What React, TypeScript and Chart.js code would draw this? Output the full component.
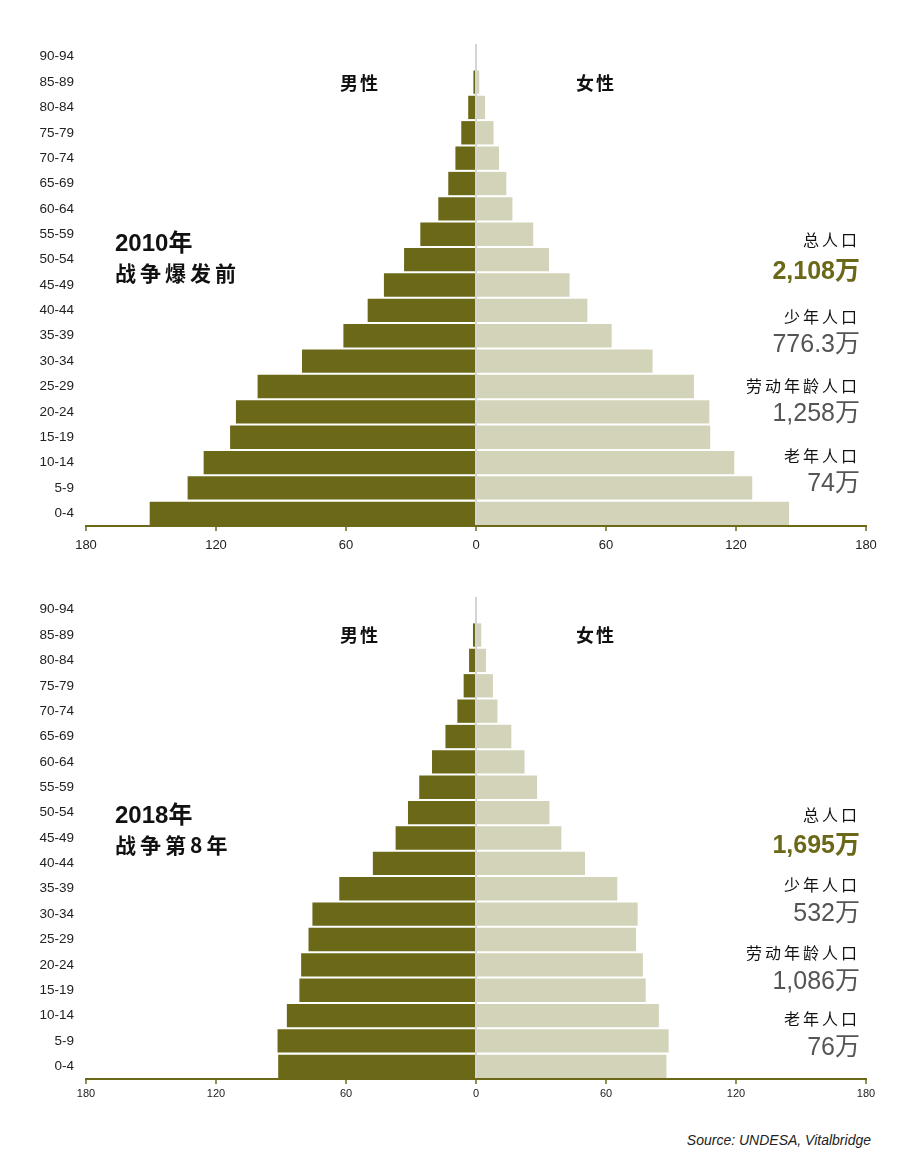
import { useEffect, useRef } from "react"
import { Chart, registerables } from "chart.js"

Chart.register(...registerables)

// age groups, bottom (0-4) to top (90-94)
const ageGroups = [
  "0-4", "5-9", "10-14", "15-19", "20-24", "25-29", "30-34", "35-39", "40-44", "45-49",
  "50-54", "55-59", "60-64", "65-69", "70-74", "75-79", "80-84", "85-89", "90-94",
]

// population in 万 (ten thousand)
const male2010 = [150.6, 133.1, 125.7, 113.5, 110.8, 100.8, 80.3, 61.2, 50.0, 42.5, 33.2, 25.7, 17.4, 12.8, 9.5, 6.8, 3.6, 1.2, 0]
const female2010 = [144.5, 127.5, 119.2, 108.1, 107.7, 100.6, 81.5, 62.6, 51.4, 43.2, 33.7, 26.4, 16.8, 14.0, 10.6, 8.1, 4.2, 1.5, 0]
const male2018 = [91.3, 91.6, 87.3, 81.5, 80.7, 77.3, 75.5, 63.1, 47.6, 37.1, 31.4, 26.2, 20.3, 14.1, 8.6, 5.7, 3.2, 1.4, 0]
const female2018 = [87.9, 88.9, 84.4, 78.3, 77.0, 73.9, 74.6, 65.2, 50.3, 39.4, 33.9, 28.2, 22.4, 16.3, 9.9, 7.8, 4.6, 2.4, 0]

const statLabels = ["总人口", "少年人口", "劳动年龄人口", "老年人口"]
const stats2010 = ["2,108万", "776.3万", "1,258万", "74万"]
const stats2018 = ["1,695万", "532万", "1,086万", "76万"]

const OLIVE = "#6b6818"
const BEIGE = "#d3d3b9"
const CJK = '"Noto Sans CJK SC", "Noto Sans", sans-serif'
const LATIN = 'Arial, "Liberation Sans", ' + CJK

type PyramidProps = {
  male: number[]
  female: number[]
  top: number
  height: number
  padTop: number
  axisHeight: number
  tickSize: number
  tickPad: number
}

function Pyramid({ male, female, top, height, padTop, axisHeight, tickSize, tickPad }: PyramidProps) {
  const chartRef = useRef<HTMLCanvasElement>(null)

  useEffect(() => {
    if (!chartRef.current) return
    const chart = new Chart(chartRef.current, {
      type: "bar",
      data: {
        labels: ageGroups,
        datasets: [
          {
            label: "男性",
            data: male.map((v) => -v),
            backgroundColor: OLIVE,
            barPercentage: 0.92,
            categoryPercentage: 1,
          },
          {
            label: "女性",
            data: female,
            backgroundColor: BEIGE,
            barPercentage: 0.92,
            categoryPercentage: 1,
          },
        ],
      },
      options: {
        indexAxis: "y",
        responsive: false,
        animation: false,
        layout: { padding: { top: padTop, right: 58, left: 0, bottom: 0 } },
        plugins: {
          legend: { display: false },
          tooltip: { enabled: false },
        },
        scales: {
          x: {
            stacked: true,
            min: -180,
            max: 180,
            afterFit: (scale) => {
              scale.height = axisHeight
            },
            ticks: {
              stepSize: 60,
              callback: (value) => String(Math.abs(Number(value))),
              color: "#222",
              font: { family: "Arial, 'Liberation Sans', sans-serif", size: tickSize },
              padding: tickPad,
              maxRotation: 0,
            },
            grid: {
              drawOnChartArea: true,
              color: (ctx) => (ctx.tick && ctx.tick.value === 0 ? "#d4d4d4" : "rgba(0,0,0,0)"),
              lineWidth: 2,
              tickColor: OLIVE,
              tickLength: 5,
              tickWidth: 1.5,
            },
            border: { color: OLIVE, width: 2 },
          },
          y: {
            stacked: true,
            reverse: true,
            afterFit: (scale) => {
              scale.width = 86
            },
            ticks: {
              color: "#222",
              font: { family: "Arial, 'Liberation Sans', sans-serif", size: 13.5 },
              padding: 12,
              autoSkip: false,
            },
            grid: { display: false, drawTicks: false },
            border: { display: false },
          },
        },
      },
    })
    return () => chart.destroy()
  }, [male, female, padTop, axisHeight, tickSize, tickPad])

  return (
    <canvas
      ref={chartRef}
      width={924}
      height={height}
      style={{ position: "absolute", left: 0, top, width: 924, height }}
    />
  )
}

type TextProps = {
  x: number
  y: number
  align?: "left" | "right" | "center"
  size: number
  color?: string
  bold?: boolean
  spacing?: number
  family?: string
  children: React.ReactNode
}

function Label({ x, y, align = "left", size, color = "#111", bold, spacing = 0, family = CJK, children }: TextProps) {
  const style: React.CSSProperties = {
    position: "absolute",
    top: y,
    fontSize: size,
    lineHeight: 1,
    color,
    fontWeight: bold ? 700 : 400,
    letterSpacing: spacing,
    fontFamily: family,
    whiteSpace: "nowrap",
    transform: align === "center" ? "translate(-50%, -50%)" : "translateY(-50%)",
  }
  if (align === "right") style.right = 924 - x
  else style.left = x
  return <div style={style}>{children}</div>
}

type PanelProps = {
  sexY: number
  titleY: number
  year: string
  subtitle: string
  stats: string[]
  labelY: number[]
  valueY: number[]
}

function Panel({ sexY, titleY, year, subtitle, stats, labelY, valueY }: PanelProps) {
  return (
    <>
      <Label x={360} y={sexY} align="center" size={18} bold spacing={2}>男性</Label>
      <Label x={596} y={sexY} align="center" size={18} bold spacing={2}>女性</Label>
      <Label x={115} y={titleY} size={24} bold family={LATIN}>
        {year}
      </Label>
      <Label x={115} y={titleY + 29} size={21} bold spacing={4}>{subtitle}</Label>
      {statLabels.map((label, i) => (
        <div key={label}>
          <Label x={860} y={labelY[i]} align="right" size={16} spacing={3}>
            {label}
          </Label>
          <Label
            x={860}
            y={valueY[i]}
            align="right"
            size={25}
            bold={i === 0}
            color={i === 0 ? OLIVE : "#555"}
            family={LATIN}
          >
            {stats[i]}
          </Label>
        </div>
      ))}
    </>
  )
}

export default function App() {
  return (
    <div
      style={{
        position: "absolute",
        left: 0,
        top: 0,
        width: 924,
        height: 1159,
        overflow: "hidden",
        background: "#fff",
      }}
    >
      <Pyramid male={male2010} female={female2010} top={0} height={560} padTop={44} axisHeight={34} tickSize={13} tickPad={7} />
      <Pyramid male={male2018} female={female2018} top={560} height={540} padTop={37} axisHeight={21} tickSize={11} tickPad={3} />
      <Panel
        sexY={82}
        titleY={243}
        year="2010年"
        subtitle="战争爆发前"
        stats={stats2010}
        labelY={[239, 316, 385, 455]}
        valueY={[270, 343, 412, 482]}
      />
      <Panel
        sexY={634}
        titleY={815}
        year="2018年"
        subtitle="战争第8年"
        stats={stats2018}
        labelY={[814, 884, 952, 1018]}
        valueY={[844, 912, 980, 1046]}
      />
      <Label x={871} y={1140} align="right" size={14} color="#222" family={'Arial, "Liberation Sans", sans-serif'}>
        <i>Source: UNDESA, Vitalbridge</i>
      </Label>
    </div>
  )
}
